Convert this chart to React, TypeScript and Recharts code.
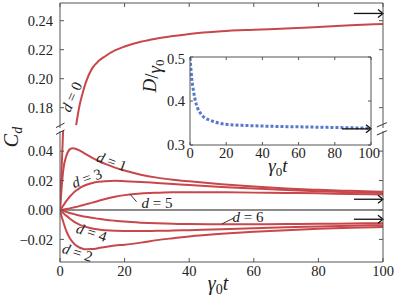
import React from 'react';
import { LineChart, Line, XAxis, YAxis, ReferenceLine, ReferenceDot } from 'recharts';

// ---- data ----
const TIME = [0, 0.5, 1, 2, 3, 4, 5, 6, 7, 8, 10, 12, 14, 17, 20, 25, 30, 35, 40, 50, 60, 70, 80, 90, 100];
const C0_UPPER = [null, null, null, null, null, null, 0.168, 0.181, 0.19, 0.1975, 0.2073, 0.2123, 0.2155, 0.2195, 0.2222, 0.2255, 0.2277, 0.2294, 0.2309, 0.2328, 0.2338, 0.2346, 0.2357, 0.2368, 0.2378];
const C0_LOWER = [0, 0.028, 0.056, null, null, null, null, null, null, null, null, null, null, null, null, null, null, null, null, null, null, null, null, null, null];
const C1 = [0, 0.015, 0.027, 0.037, 0.0412, 0.042, 0.0415, 0.0405, 0.0393, 0.038, 0.0355, 0.0333, 0.0313, 0.0288, 0.0268, 0.024, 0.022, 0.0206, 0.0195, 0.0175, 0.0159, 0.0146, 0.0137, 0.013, 0.0124];
const C2 = [0, -0.0045, -0.008, -0.0145, -0.019, -0.022, -0.0242, -0.0255, -0.0263, -0.0267, -0.0266, -0.0259, -0.0251, -0.0242, -0.0236, -0.0222, -0.0205, -0.0192, -0.018, -0.0162, -0.0148, -0.0137, -0.0128, -0.0121, -0.0116];
const C3 = [0, 0.0015, 0.003, 0.0062, 0.009, 0.0113, 0.0132, 0.0147, 0.016, 0.017, 0.0184, 0.0192, 0.0196, 0.0198, 0.0196, 0.0191, 0.0184, 0.0177, 0.017, 0.0157, 0.0146, 0.0136, 0.0128, 0.0121, 0.0116];
const C4 = [0, -0.001, -0.002, -0.004, -0.0058, -0.0074, -0.0088, -0.0099, -0.0108, -0.0115, -0.0126, -0.0133, -0.0138, -0.0142, -0.0143, -0.0143, -0.0142, -0.014, -0.0137, -0.0131, -0.0124, -0.0117, -0.0112, -0.0107, -0.0103];
const C5 = [0, 0.0001, 0.0003, 0.0007, 0.0011, 0.0016, 0.0021, 0.0026, 0.0032, 0.0038, 0.005, 0.0063, 0.0075, 0.009, 0.0101, 0.0112, 0.0117, 0.012, 0.012, 0.012, 0.0118, 0.0116, 0.0113, 0.0109, 0.0106];
const C6 = [0, -0.0003, -0.0006, -0.0013, -0.002, -0.0026, -0.0032, -0.0037, -0.0042, -0.0046, -0.0053, -0.006, -0.0066, -0.0073, -0.0079, -0.0086, -0.0091, -0.0094, -0.0096, -0.0097, -0.0097, -0.0096, -0.0094, -0.0092, -0.009];
const D_RATE = [0.498, 0.473, 0.45, 0.421, 0.4, 0.386, 0.377, 0.371, 0.366, 0.362, 0.358, 0.355, 0.352, 0.349, 0.347, 0.3455, 0.3445, 0.3437, 0.343, 0.342, 0.3413, 0.3405, 0.3398, 0.339, 0.338];

const C0_LIMIT = 0.245;
const ODD_LIMIT = 0.0073;
const EVEN_LIMIT = -0.0063;
const D_LIMIT = 0.3367;

const X_TICKS = [0, 20, 40, 60, 80, 100];
const TOP_TICKS = [0.18, 0.2, 0.22, 0.24];
const LOW_TICKS = [-0.02, 0, 0.02, 0.04];
const INSET_TICKS = [0.3, 0.4, 0.5];

const rows = TIME.map((t, i) => ({
  t,
  c0u: C0_UPPER[i],
  c0l: C0_LOWER[i],
  c1: C1[i],
  c2: C2[i],
  c3: C3[i],
  c4: C4[i],
  c5: C5[i],
  c6: C6[i],
  dr: D_RATE[i],
}));

// ---- styles ----
const RED = '#c8474b';
const BLUE = '#5878cc';
const AXIS = '#555';
const FONT = 'Liberation Serif';
const tickStyle = { fill: '#222', fontSize: 14.5, fontFamily: FONT };
const blank = () => '';
const fmt2 = (v: number) => (v < 0 ? '\u2212' : '') + Math.abs(v).toFixed(2);
const fmt1 = (v: number) => v.toFixed(1);

const arrowShape = (p: any) => (
  <g>
    <line x1={p.x1} y1={p.y1} x2={p.x2} y2={p.y2} stroke="#111" strokeWidth={1.3} />
    <polyline
      points={`${p.x2 - 5},${p.y2 - 4} ${p.x2},${p.y2} ${p.x2 - 5},${p.y2 + 4}`}
      fill="none"
      stroke="#111"
      strokeWidth={1.3}
    />
  </g>
);

const note = (key: string, x: number, y: number, n: number, angle: number, xId: string, yId: string) => (
  <ReferenceDot
    key={key}
    x={x}
    y={y}
    xAxisId={xId}
    yAxisId={yId}
    ifOverflow="visible"
    shape={(p: any) => (
      <text
        x={p.cx}
        y={p.cy}
        transform={`rotate(${angle} ${p.cx} ${p.cy})`}
        textAnchor="middle"
        dominantBaseline="central"
        fontFamily={FONT}
        fontSize={15}
        fill="#222"
      >
        <tspan fontStyle="italic">d</tspan> = {n}
      </text>
    )}
  />
);

const seg = (key: string, x1: number, y1: number, x2: number, y2: number, xId: string, yId: string, color = '#333') => (
  <ReferenceLine
    key={key}
    xAxisId={xId}
    yAxisId={yId}
    ifOverflow="visible"
    segment={[{ x: x1, y: y1 }, { x: x2, y: y2 }]}
    stroke={color}
    strokeWidth={1}
  />
);

const arrow = (key: string, x1: number, x2: number, y: number, xId: string, yId: string) => (
  <ReferenceLine
    key={key}
    xAxisId={xId}
    yAxisId={yId}
    ifOverflow="visible"
    segment={[{ x: x1, y }, { x: x2, y }]}
    shape={arrowShape}
  />
);

const redLine = (key: string, x: string, y: string) => (
  <Line
    key={key}
    xAxisId={x}
    yAxisId={y}
    dataKey={key}
    type="monotone"
    stroke={RED}
    strokeWidth={2}
    dot={false}
    activeDot={false}
    isAnimationActive={false}
  />
);

export default function App() {
  return (
    <div style={{ position: 'absolute', left: 0, top: 0, width: 395, height: 302, background: '#fff' }}>
      {/* upper panel */}
      <div style={{ position: 'absolute', left: 0, top: 0 }}>
        <LineChart width={395} height={128} data={rows} margin={{ top: 2, right: 11, bottom: 0, left: 0 }}>
          <XAxis xAxisId="x" orientation="top" dataKey="t" type="number" domain={[0, 100]} ticks={X_TICKS} height={1} tickSize={-4} tickFormatter={blank} stroke={AXIS} allowDataOverflow />
          <YAxis yAxisId="y" domain={[0.166, 0.2522]} ticks={TOP_TICKS} width={60} tickSize={-4} tickMargin={11} tickFormatter={fmt2} tick={tickStyle} stroke={AXIS} allowDataOverflow />
          <YAxis yAxisId="yr" orientation="right" domain={[0.166, 0.2522]} ticks={TOP_TICKS} width={1} tickSize={-4} tickFormatter={blank} stroke={AXIS} allowDataOverflow />
          {redLine('c0u', 'x', 'y')}
          {arrow('a0', 91, 100, C0_LIMIT, 'x', 'y')}
          {note('n0', 3.6, 0.1875, 0, -66, 'x', 'y')}
          {seg('b1', -1.24, 0.1663, 1.4, 0.1694, 'x', 'y')}
          {seg('b2', 98.1, 0.1667, 101.2, 0.1697, 'x', 'y')}
        </LineChart>
      </div>

      {/* lower panel */}
      <div style={{ position: 'absolute', left: 0, top: 128 }}>
        <LineChart width={395} height={174} data={rows} margin={{ top: 3, right: 11, bottom: 0, left: 0 }}>
          <XAxis xAxisId="x" dataKey="t" type="number" domain={[0, 100]} ticks={X_TICKS} height={40} tickSize={-4} tickMargin={8} tick={tickStyle} stroke={AXIS} allowDataOverflow />
          <YAxis yAxisId="y" domain={[-0.03537, 0.0537]} ticks={LOW_TICKS} width={60} tickSize={-4} tickMargin={11} tickFormatter={fmt2} tick={tickStyle} stroke={AXIS} allowDataOverflow />
          <YAxis yAxisId="yr" orientation="right" domain={[-0.03537, 0.0537]} ticks={LOW_TICKS} width={1} tickSize={-4} tickFormatter={blank} stroke={AXIS} allowDataOverflow />
          <ReferenceLine xAxisId="x" yAxisId="y" y={0} stroke="#666" strokeWidth={1.3} />
          {redLine('c0l', 'x', 'y')}
          {redLine('c1', 'x', 'y')}
          {redLine('c2', 'x', 'y')}
          {redLine('c3', 'x', 'y')}
          {redLine('c4', 'x', 'y')}
          {redLine('c5', 'x', 'y')}
          {redLine('c6', 'x', 'y')}
          {arrow('a1', 91, 100, ODD_LIMIT, 'x', 'y')}
          {arrow('a2', 91, 100, EVEN_LIMIT, 'x', 'y')}
          {note('n1', 16.0, 0.0329, 1, 20, 'x', 'y')}
          {note('n3', 8.3, 0.0216, 3, -20, 'x', 'y')}
          {note('n5', 30, 0.0046, 5, 0, 'x', 'y')}
          {note('n4', 9.8, -0.0153, 4, 18, 'x', 'y')}
          {note('n2', 5.4, -0.0289, 2, 18, 'x', 'y')}
          {note('n6', 58.2, -0.0051, 6, 0, 'x', 'y')}
          {seg('l5', 21.7, 0.0107, 23.7, 0.0056, 'x', 'y')}
          {seg('l6', 50.1, -0.0095, 53.7, -0.0056, 'x', 'y')}
          {seg('b3', -1.24, 0.0514, 1.4, 0.0544, 'x', 'y')}
          {seg('b4', 98.1, 0.051, 101.2, 0.0539, 'x', 'y')}
        </LineChart>
      </div>

      {/* inset */}
      <div style={{ position: 'absolute', left: 150, top: 50 }}>
        <LineChart width={230} height={130} data={rows} margin={{ top: 6, right: 8, bottom: 0, left: 0 }}>
          <XAxis xAxisId="x" dataKey="t" type="number" domain={[0, 100]} ticks={X_TICKS} height={35} tickSize={-3} tickMargin={6} tick={tickStyle} stroke={AXIS} allowDataOverflow />
          <XAxis xAxisId="xt" orientation="top" dataKey="t" type="number" domain={[0, 100]} ticks={X_TICKS} height={1} tickSize={-3} tickFormatter={blank} stroke={AXIS} allowDataOverflow />
          <YAxis yAxisId="y" domain={[0.3, 0.5]} ticks={INSET_TICKS} width={40} tickSize={-3} tickMargin={8} tickFormatter={fmt1} tick={tickStyle} stroke={AXIS} allowDataOverflow />
          <YAxis yAxisId="yr" orientation="right" domain={[0.3, 0.5]} ticks={INSET_TICKS} width={1} tickSize={-3} tickFormatter={blank} stroke={AXIS} allowDataOverflow />
          <Line xAxisId="x" yAxisId="y" dataKey="dr" type="monotone" stroke={BLUE} strokeWidth={3} strokeDasharray="3 2" dot={false} activeDot={false} isAnimationActive={false} />
          {arrow('a3', 84, 100, D_LIMIT, 'x', 'y')}
        </LineChart>
      </div>

      {/* axis titles */}
      <svg width={395} height={302} style={{ position: 'absolute', left: 0, top: 0, pointerEvents: 'none' }}>
        <text transform="translate(18,137) rotate(-90)" textAnchor="middle" fontFamily={FONT} fontSize={20} fill="#222">
          <tspan fontStyle="italic">C</tspan>
          <tspan fontStyle="italic" fontSize={14} dy={4}>d</tspan>
        </text>
        <text x={218} y={290} textAnchor="middle" fontFamily={FONT} fontSize={20} fill="#222">
          <tspan fontStyle="italic">γ</tspan>
          <tspan fontSize={14} dy={4}>0</tspan>
          <tspan fontStyle="italic" dy={-4}>t</tspan>
        </text>
        <text x={278} y={172} textAnchor="middle" fontFamily={FONT} fontSize={19} fill="#222">
          <tspan fontStyle="italic">γ</tspan>
          <tspan fontSize={13} dy={4}>0</tspan>
          <tspan fontStyle="italic" dy={-4}>t</tspan>
        </text>
        <text transform="translate(158,76) rotate(-90)" textAnchor="middle" fontFamily={FONT} fontSize={19} fill="#222">
          <tspan fontStyle="italic" dy={-2}>D</tspan>
          <tspan dy={2}>/</tspan>
          <tspan fontStyle="italic" dy={3}>γ</tspan>
          <tspan fontSize={13} dy={3}>0</tspan>
        </text>
      </svg>
    </div>
  );
}
